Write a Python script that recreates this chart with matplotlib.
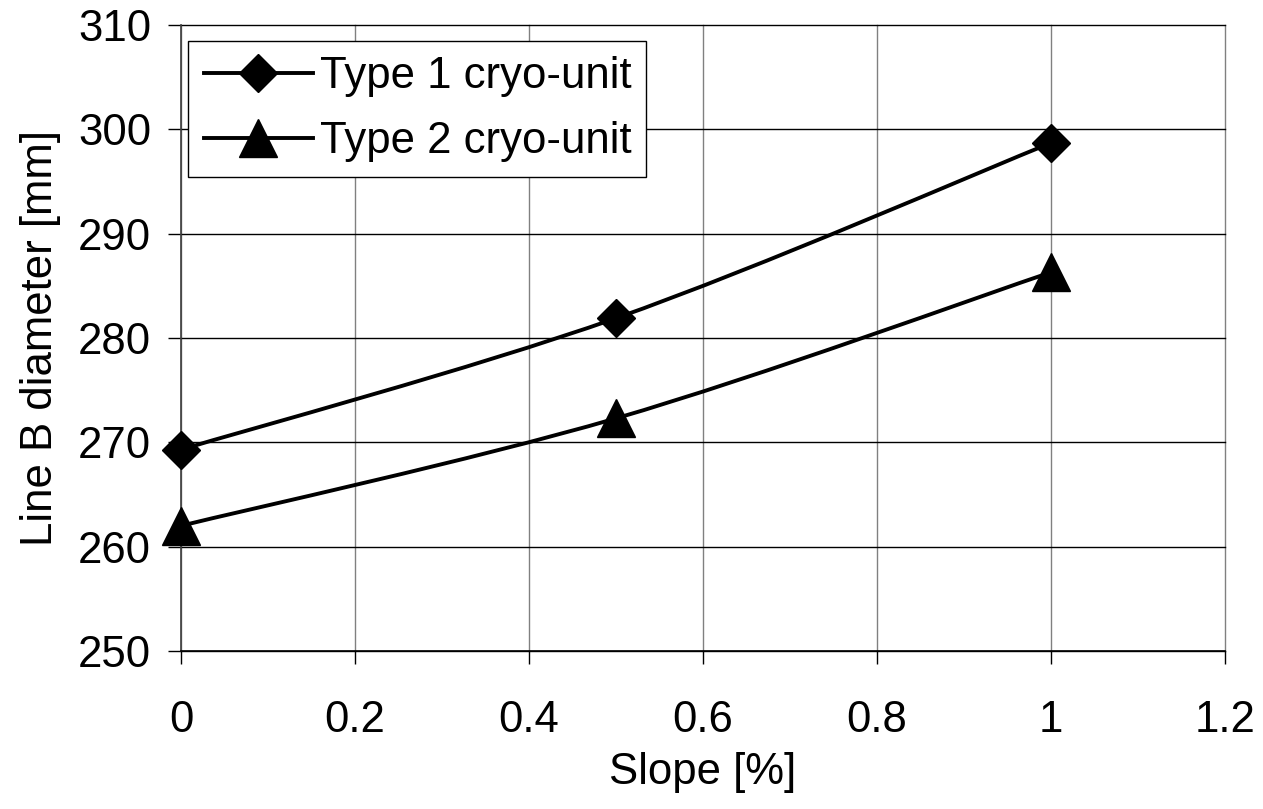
import matplotlib
matplotlib.use('Agg')
import matplotlib.pyplot as plt
import numpy as np
from matplotlib.path import Path
from matplotlib.patches import PathPatch
from matplotlib.lines import Line2D

plt.rcParams['font.family'] = ['Liberation Sans', 'DejaVu Sans']

# data
slope = [0.0, 0.5, 1.0]
type1 = [269.3, 281.9, 298.7]
type2 = [262.0, 272.3, 286.3]
labels = ['Type 1 cryo-unit', 'Type 2 cryo-unit']
markers = ['D', '^']
sizes = [19, 27]


def smooth_path(x, y):
    # Excel-style smoothed line: cubic Bezier through the points
    pts = np.column_stack((x, y))
    n = len(pts)
    verts = [pts[0]]
    codes = [Path.MOVETO]
    for i in range(n - 1):
        p0 = pts[max(i - 1, 0)]
        p1 = pts[i]
        p2 = pts[i + 1]
        p3 = pts[min(i + 2, n - 1)]
        c1 = p1 + (p2 - p0) / 6.0
        c2 = p2 - (p3 - p1) / 6.0
        verts += [c1, c2, p2]
        codes += [Path.CURVE4] * 3
    return Path(verts, codes)


fig = plt.figure(figsize=(12.63, 8.09), dpi=100)
ax = fig.add_axes([0.1433, 0.1953, 0.8266, 0.7738])

handles = []
for ys, lab, m, ms in zip([type1, type2], labels, markers, sizes):
    ax.add_patch(PathPatch(smooth_path(slope, ys), facecolor='none',
                           edgecolor='black', lw=2.8, zorder=3))
    ax.plot(slope, ys, linestyle='none', marker=m, markersize=ms,
            color='black', zorder=4, clip_on=False)
    handles.append(Line2D([], [], color='black', lw=2.8, marker=m,
                          markersize=ms))

ax.set_xlim(0, 1.2)
ax.set_ylim(250, 310)
ax.set_xticks(np.arange(0, 1.21, 0.2))
ax.set_xticklabels(['0', '0.2', '0.4', '0.6', '0.8', '1', '1.2'])
ax.set_yticks(np.arange(250, 311, 10))

ax.yaxis.grid(True, color='black', lw=1)
ax.xaxis.grid(True, color='#808080', lw=1)
ax.set_axisbelow(True)
for gl in ax.get_xgridlines() + ax.get_ygridlines():
    gl.set_clip_on(False)
for s in ['top', 'right']:
    ax.spines[s].set_visible(False)
ax.spines['bottom'].set_linewidth(1.2)
ax.spines['left'].set_linewidth(1.2)
ax.spines['left'].set_color('#404040')

ax.tick_params(axis='both', labelsize=31.5, length=9.5, direction='out', width=1)
ax.tick_params(axis='x', pad=26)
ax.tick_params(axis='y', pad=12)
ax.set_xlabel('Slope [%]', fontsize=31.5, labelpad=8)
ax.set_ylabel('Line B diameter [mm]', fontsize=31.5, labelpad=12)

leg = ax.legend(handles, labels, loc='upper left', bbox_to_anchor=(0.007, 0.975),
                fontsize=31.5, frameon=True, fancybox=False, handlelength=2.5,
                handletextpad=0.15, borderpad=0.35, labelspacing=0.55,
                borderaxespad=0)
leg.get_frame().set_edgecolor('black')
leg.get_frame().set_linewidth(1)
leg.get_frame().set_alpha(1)

fig.savefig('out.png', dpi=100)
